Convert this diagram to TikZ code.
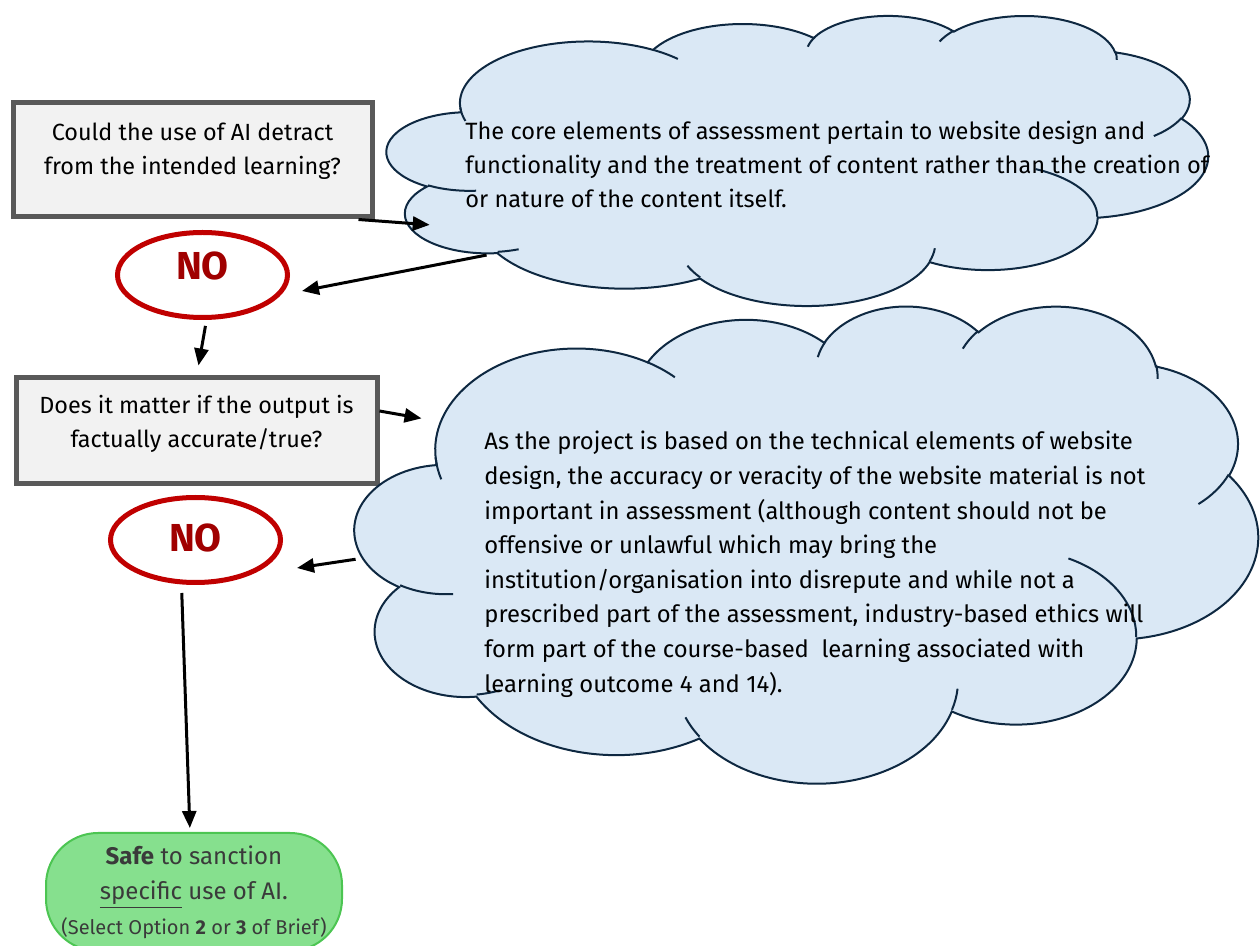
\documentclass[tikz,border=0pt]{standalone}
\usepackage{fontspec}
\setmainfont{Fira Sans}
\usetikzlibrary{positioning,shapes.geometric,arrows.meta}
\definecolor{boxfill}{HTML}{F2F2F2}
\definecolor{boxline}{HTML}{595959}
\definecolor{nored}{HTML}{C00000}
\definecolor{notext}{HTML}{A00000}
\definecolor{cloudfill}{HTML}{DAE8F5}
\definecolor{cloudline}{HTML}{0E2841}
\definecolor{safefill}{HTML}{86E08E}
\definecolor{safeline}{HTML}{4CC552}
\definecolor{safetext}{HTML}{3A3A3A}

% cloud outline in a 432 x 432 box (y downwards)
\tikzset{
  officecloud/.pic={
    \path[pic actions] (39.00,143.70)
      foreach \ts/\dt/\rx/\ry in {172.254/128.086/67.53/91.90, -152.02/106.56/53.33/72.67,
        -153.48/116.15/43.65/59.45, -139.71/129.50/48.57/65.95, -74.77/97.98/53.33/72.73,
        -37.52/119.38/67.75/92.20, 0.46/121.51/57.85/78.67, 16.85/129.37/67.52/92.15,
        59.00/91.18/77.20/105.43, 83.30/139.80/43.60/59.18, 120.34/143.77/43.45/59.45}
      {arc[start angle=\ts, delta angle=\dt, x radius=\rx, y radius=\ry]} -- cycle;
    \foreach \sx/\sy/\rx/\ry/\ts/\dt in {46.93/261.77/43.45/59.45/85.545/34.80,
        69.28/348.99/43.60/59.18/68.24/15.06, 164.78/390.90/67.52/92.15/146.21/12.26,
        288.27/347.51/67.52/92.15/4.737/12.11, 341.29/229.54/57.85/78.67/-63.97/64.43,
        417.98/153.54/53.33/72.73/23.21/26.45, 383.24/54.26/48.57/65.95/-10.21/11.03,
        290.78/39.52/48.57/65.95/-156.29/16.58, 221.41/47.20/43.65/59.45/-167.72/14.24,
        140.00/51.92/67.53/91.90/-59.66/13.94, 41.27/157.89/67.53/91.90/163.19/12.63}
      \draw[pic actions, fill=none] (\sx,\sy) arc[start angle=\ts, delta angle=\dt, x radius=\rx, y radius=\ry];
  }
}

\begin{document}
\begin{tikzpicture}[
  x=0.5pt, y=-0.5pt,
  question/.style={draw=boxline, fill=boxfill, line width=2.5pt, align=center, inner sep=0pt,
    font=\fontsize{11.7}{17}\selectfont},
  nobubble/.style={ellipse, draw=nored, line width=2.5pt, inner sep=0pt, minimum width=85pt, minimum height=42.5pt,
    text=notext, font=\fontsize{19.5}{20}\selectfont\bfseries},
  cloudstyle/.style={draw=cloudline, fill=cloudfill, line width=1pt},
  cloudspot/.style={ellipse, inner sep=0pt},
  note/.style={align=left, anchor=north west, inner sep=0pt},
  safe/.style={rectangle, rounded corners=26pt, draw=safeline, fill=safefill, line width=1pt,
    minimum width=148pt, minimum height=59pt, align=center, text=safetext, font=\fontsize{12}{17.5}\selectfont},
  arr/.style={-{Triangle[length=8.5pt,width=7pt]}, line width=1.5pt, black}
]
\useasboundingbox (0,0) rectangle (1260,946);

% questions and answers
\node[question, minimum width=179.5pt, minimum height=57pt, text height=26pt, text depth=11pt] (ask1) at (192.5,160)
  {Could the use of AI detract\\from the intended learning?};
\node[nobubble, text height=13.5pt, text depth=9pt] (no1) at (202.5,275) {NO};
\node[question, minimum width=180.5pt, minimum height=53pt, text height=26pt, text depth=9pt] (ask2) at (196.5,431)
  {Does it matter if the output is\\factually accurate/true?};
\node[nobubble, text height=13.5pt, text depth=2pt] (no2) at (195.5,540) {NO};
\node[safe] (ok) at (194,892)
  {\textbf{Safe} to sanction\\\underline{specific} use of AI.\\{\fontsize{10}{12}\selectfont(Select Option \textbf{2} or \textbf{3} of Brief)}};

% clouds
\pic[cloudstyle, xscale=821/432, yscale=290/432] at (387,15) {officecloud};
\node[cloudspot, minimum width=410.5pt, minimum height=145pt] (cloud1) at (797.5,160) {};
\pic[cloudstyle, xscale=903/432, yscale=477/432] at (355,305) {officecloud};
\node[cloudspot, minimum width=451.5pt, minimum height=238.5pt] (cloud2) at (806.5,543.5) {};

\node[note, font=\fontsize{11.8}{17}\selectfont] (why1) at (465,121)
  {The core elements of assessment pertain to website design and\\
   functionality and the treatment of content rather than the creation of\\
   or nature of the content itself.};
\node[note, font=\fontsize{11.9}{17.3}\selectfont] (why2) at (484,431)
  {As the project is based on the technical elements of website\\
   design, the accuracy or veracity of the website material is not\\
   important in assessment (although content should not be\\
   offensive or unlawful which may bring the\\
   institution/organisation into disrepute and while not a\\
   prescribed part of the assessment, industry-based ethics will\\
   form part of the course-based\ \ learning associated with\\
   learning outcome 4 and 14).};

% arrows
\draw[arr] ([xshift=-8pt]ask1.south east) -- (cloud1.190);
\draw[arr] (cloud1.197) -- ([shift={(6pt,-8pt)}]no1.east);
\draw[arr, shorten <=3pt] ([xshift=2pt]no1.south) -- ([shift={(1pt,5pt)}]ask2.north);
\draw[arr] ([yshift=10pt]ask2.east) -- (cloud2.162);
\draw[arr] (cloud2.182) -- ([shift={(7pt,-14pt)}]no2.east);
\draw[arr, shorten <=4pt, shorten >=2pt] ([xshift=-7pt]no2.south) -- ([xshift=-2pt]ok.north);
\end{tikzpicture}
\end{document}
